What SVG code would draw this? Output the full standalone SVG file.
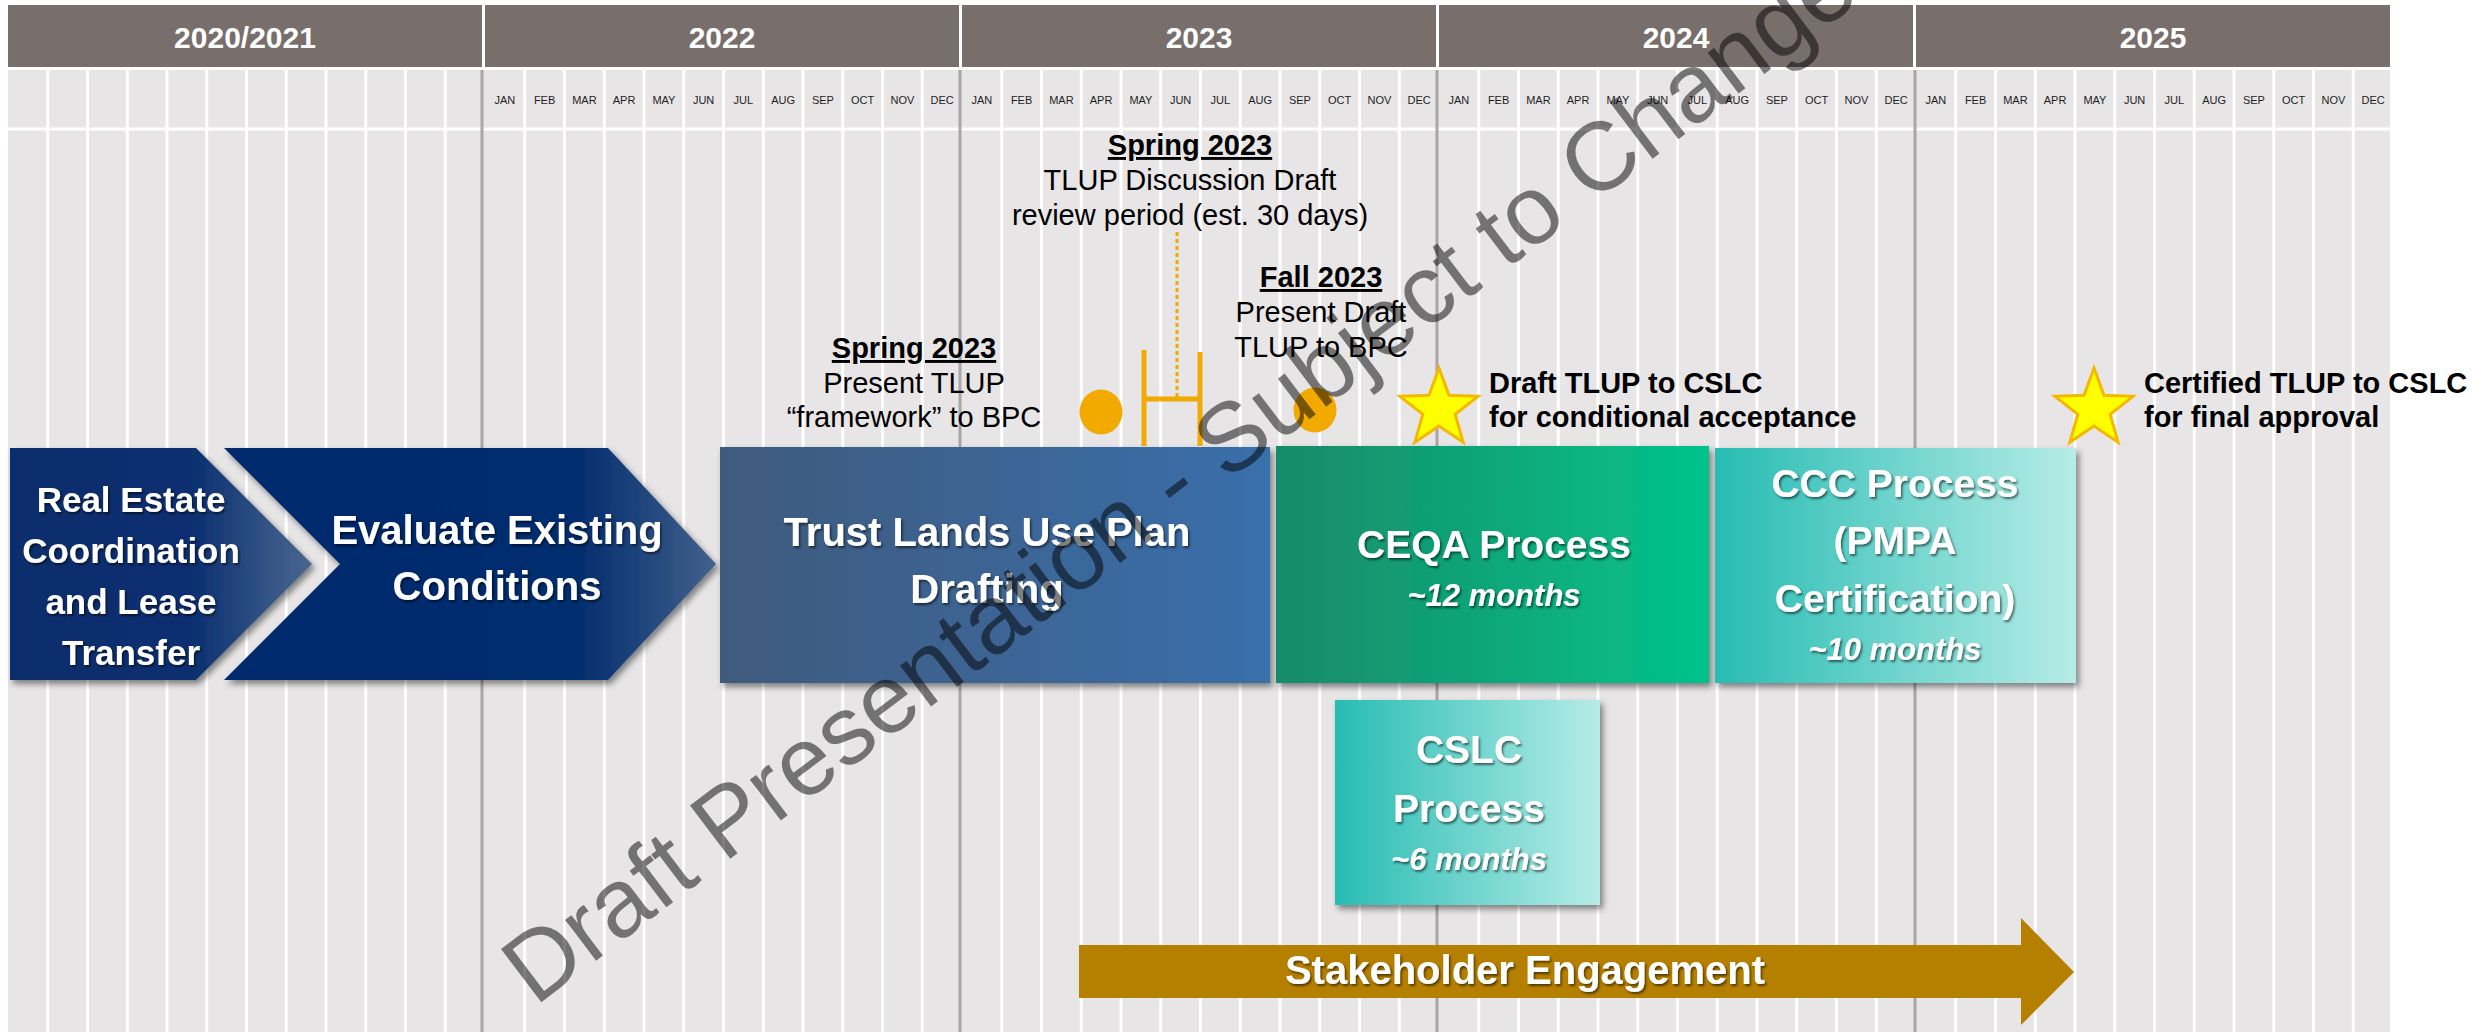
<svg xmlns="http://www.w3.org/2000/svg" width="2473" height="1032" viewBox="0 0 2473 1032">
<style>
.mo{font-family:"Liberation Sans",Arial,sans-serif;font-size:11px;fill:#1e1e1e;text-anchor:middle}
.yr{font-family:"Liberation Sans",Arial,sans-serif;font-size:30px;font-weight:bold;fill:#fff;text-anchor:middle}
.bx{font-family:"Liberation Sans",Arial,sans-serif;font-weight:bold;fill:#fff;text-anchor:middle}
.it{font-style:italic}
.ann{font-family:"Liberation Sans",Arial,sans-serif;font-size:29px;fill:#000;text-anchor:middle}
.ttl{font-weight:bold;text-decoration:underline}
.ms{font-family:"Liberation Sans",Arial,sans-serif;font-size:29px;font-weight:bold;fill:#000}
.hdr{fill:#786e6c}
.org{stroke:#f2a900;fill:none}
</style>
<defs>
<filter id="sh" x="-10%" y="-10%" width="125%" height="130%"><feDropShadow dx="3" dy="4" stdDeviation="3" flood-color="#000" flood-opacity="0.45"/></filter>
<filter id="ts" x="-10%" y="-20%" width="125%" height="150%"><feDropShadow dx="1.5" dy="2" stdDeviation="1.2" flood-color="#000" flood-opacity="0.55"/></filter>
<linearGradient id="gRE" x1="0" y1="0" x2="1" y2="0"><stop offset="0" stop-color="#0b2d6c"/><stop offset="0.6" stop-color="#0a2f70"/><stop offset="1" stop-color="#4a6790"/></linearGradient>
<linearGradient id="gEV" x1="0" y1="0" x2="1" y2="0"><stop offset="0" stop-color="#002b6e"/><stop offset="0.72" stop-color="#032d6e"/><stop offset="1" stop-color="#42618c"/></linearGradient>
<linearGradient id="gTL" x1="0" y1="0" x2="1" y2="0"><stop offset="0" stop-color="#3f5a7d"/><stop offset="1" stop-color="#396fab"/></linearGradient>
<linearGradient id="gCE" x1="0" y1="0" x2="1" y2="0"><stop offset="0" stop-color="#188b69"/><stop offset="1" stop-color="#03c38b"/></linearGradient>
<linearGradient id="gCC" x1="0" y1="0" x2="1" y2="0"><stop offset="0" stop-color="#27bcb3"/><stop offset="1" stop-color="#b6ece7"/></linearGradient>
<polygon id="star" points="0,-41 9.99,-13.75 38.99,-12.67 16.17,5.25 24.1,33.17 0,17 -24.1,33.17 -16.17,5.25 -38.99,-12.67 -9.99,-13.75" fill="#ffff00" stroke="#f5b800" stroke-width="3" stroke-linejoin="miter"/>
</defs>

<g id="grid">
<rect x="0" y="0" width="2473" height="1032" fill="#fff"/>
<rect x="8" y="70" width="2382" height="962" fill="#e7e5e6"/>
<path stroke="#fff" stroke-width="3" d="M47.75 70V1032M87.5 70V1032M127.25 70V1032M167 70V1032M206.75 70V1032M246.5 70V1032M286.25 70V1032M326 70V1032M365.75 70V1032M405.5 70V1032M445.25 70V1032
M524.75 70V1032M564.5 70V1032M604.25 70V1032M644 70V1032M683.75 70V1032M723.5 70V1032M763.25 70V1032M803 70V1032M842.75 70V1032M882.5 70V1032M922.25 70V1032
M1001.75 70V1032M1041.5 70V1032M1081.25 70V1032M1121 70V1032M1160.75 70V1032M1200.5 70V1032M1240.25 70V1032M1280 70V1032M1319.75 70V1032M1359.5 70V1032M1399.25 70V1032
M1478.75 70V1032M1518.5 70V1032M1558.25 70V1032M1598 70V1032M1637.75 70V1032M1677.5 70V1032M1717.25 70V1032M1757 70V1032M1796.75 70V1032M1836.5 70V1032M1876.25 70V1032
M1955.75 70V1032M1995.5 70V1032M2035.25 70V1032M2075 70V1032M2114.75 70V1032M2154.5 70V1032M2194.25 70V1032M2234 70V1032M2273.75 70V1032M2313.5 70V1032M2353.25 70V1032
M8 129H2390"/>
<path stroke="#aaa5a6" stroke-width="3" d="M482 70V1032M960 70V1032M1437 70V1032M1915 70V1032"/>
</g>

<g id="header">
<rect class="hdr" x="8" y="5" width="474" height="62"/>
<rect class="hdr" x="485" y="5" width="474" height="62"/>
<rect class="hdr" x="962" y="5" width="474" height="62"/>
<rect class="hdr" x="1439" y="5" width="474" height="62"/>
<rect class="hdr" x="1916" y="5" width="474" height="62"/>
<text class="yr" x="245" y="48">2020/2021</text>
<text class="yr" x="722" y="48">2022</text>
<text class="yr" x="1199" y="48">2023</text>
<text class="yr" x="1676" y="48">2024</text>
<text class="yr" x="2153" y="48">2025</text>
</g>

<g id="months">
<text class="mo" x="504.9" y="104">JAN</text><text class="mo" x="544.6" y="104">FEB</text><text class="mo" x="584.4" y="104">MAR</text><text class="mo" x="624.1" y="104">APR</text><text class="mo" x="663.9" y="104">MAY</text><text class="mo" x="703.6" y="104">JUN</text><text class="mo" x="743.4" y="104">JUL</text><text class="mo" x="783.1" y="104">AUG</text><text class="mo" x="822.9" y="104">SEP</text><text class="mo" x="862.6" y="104">OCT</text><text class="mo" x="902.4" y="104">NOV</text><text class="mo" x="942.1" y="104">DEC</text>
<text class="mo" x="981.9" y="104">JAN</text><text class="mo" x="1021.6" y="104">FEB</text><text class="mo" x="1061.4" y="104">MAR</text><text class="mo" x="1101.1" y="104">APR</text><text class="mo" x="1140.9" y="104">MAY</text><text class="mo" x="1180.6" y="104">JUN</text><text class="mo" x="1220.4" y="104">JUL</text><text class="mo" x="1260.1" y="104">AUG</text><text class="mo" x="1299.9" y="104">SEP</text><text class="mo" x="1339.6" y="104">OCT</text><text class="mo" x="1379.4" y="104">NOV</text><text class="mo" x="1419.1" y="104">DEC</text>
<text class="mo" x="1458.9" y="104">JAN</text><text class="mo" x="1498.6" y="104">FEB</text><text class="mo" x="1538.4" y="104">MAR</text><text class="mo" x="1578.1" y="104">APR</text><text class="mo" x="1617.9" y="104">MAY</text><text class="mo" x="1657.6" y="104">JUN</text><text class="mo" x="1697.4" y="104">JUL</text><text class="mo" x="1737.1" y="104">AUG</text><text class="mo" x="1776.9" y="104">SEP</text><text class="mo" x="1816.6" y="104">OCT</text><text class="mo" x="1856.4" y="104">NOV</text><text class="mo" x="1896.1" y="104">DEC</text>
<text class="mo" x="1935.9" y="104">JAN</text><text class="mo" x="1975.6" y="104">FEB</text><text class="mo" x="2015.4" y="104">MAR</text><text class="mo" x="2055.1" y="104">APR</text><text class="mo" x="2094.9" y="104">MAY</text><text class="mo" x="2134.6" y="104">JUN</text><text class="mo" x="2174.4" y="104">JUL</text><text class="mo" x="2214.1" y="104">AUG</text><text class="mo" x="2253.9" y="104">SEP</text><text class="mo" x="2293.6" y="104">OCT</text><text class="mo" x="2333.4" y="104">NOV</text><text class="mo" x="2373.1" y="104">DEC</text>
</g>

<g id="connectors">
<path class="org" stroke-width="3" stroke-dasharray="4 3" d="M1177 232V397"/>
<path class="org" stroke-width="5" d="M1144 350V446M1200 352V446M1144 399H1200"/>
</g>

<g id="milestone-spring-framework">
<ellipse cx="1101" cy="412" rx="21.5" ry="22.5" fill="#f2a900"/>
<text class="ann ttl" x="914" y="358">Spring 2023</text>
<text class="ann" x="914" y="393">Present TLUP</text>
<text class="ann" x="914" y="427">“framework” to BPC</text>
</g>

<g id="milestone-spring-discussion">
<text class="ann ttl" x="1190" y="155">Spring 2023</text>
<text class="ann" x="1190" y="190">TLUP Discussion Draft</text>
<text class="ann" x="1190" y="225">review period (est. 30 days)</text>
</g>

<g id="milestone-fall">
<ellipse cx="1315" cy="410" rx="21.5" ry="22.5" fill="#f2a900"/>
<text class="ann ttl" x="1321" y="287">Fall 2023</text>
<text class="ann" x="1321" y="322">Present Draft</text>
<text class="ann" x="1321" y="357">TLUP to BPC</text>
</g>

<g id="milestone-draft-cslc">
<use href="#star" x="1439" y="409"/>
<text class="ms" x="1489" y="393">Draft TLUP to CSLC</text>
<text class="ms" x="1489" y="427">for conditional acceptance</text>
</g>

<g id="milestone-certified-cslc">
<use href="#star" x="2094" y="409"/>
<text class="ms" x="2144" y="393">Certified TLUP to CSLC</text>
<text class="ms" x="2144" y="427">for final approval</text>
</g>

<g id="real-estate">
<polygon points="10,448 196,448 312,564 196,680 10,680" fill="url(#gRE)" filter="url(#sh)"/>
<g class="bx" font-size="35" filter="url(#ts)">
<text x="131" y="512">Real Estate</text>
<text x="131" y="563">Coordination</text>
<text x="131" y="614">and Lease</text>
<text x="131" y="665">Transfer</text>
</g>
</g>

<g id="evaluate">
<polygon points="224,448 608,448 716,564 608,680 224,680 340,564" fill="url(#gEV)" filter="url(#sh)"/>
<g class="bx" font-size="40" filter="url(#ts)">
<text x="497" y="544">Evaluate Existing</text>
<text x="497" y="600">Conditions</text>
</g>
</g>

<g id="trust-lands">
<rect x="720" y="447" width="550" height="236" fill="url(#gTL)" filter="url(#sh)"/>
<g class="bx" font-size="40" filter="url(#ts)">
<text x="987" y="546">Trust Lands Use Plan</text>
<text x="987" y="603">Drafting</text>
</g>
</g>

<g id="ceqa">
<rect x="1276" y="446" width="433" height="237" fill="url(#gCE)" filter="url(#sh)"/>
<g class="bx" filter="url(#ts)">
<text x="1494" y="558" font-size="39">CEQA Process</text>
<text class="it" x="1494" y="606" font-size="31">~12 months</text>
</g>
</g>

<g id="ccc">
<rect x="1715" y="448" width="361" height="235" fill="url(#gCC)" filter="url(#sh)"/>
<g class="bx" font-size="39" filter="url(#ts)">
<text x="1895" y="497">CCC Process</text>
<text x="1895" y="554">(PMPA</text>
<text x="1895" y="612">Certification)</text>
<text class="it" x="1895" y="660" font-size="31">~10 months</text>
</g>
</g>

<g id="cslc">
<rect x="1335" y="700" width="265" height="205" fill="url(#gCC)" filter="url(#sh)"/>
<g class="bx" font-size="39" filter="url(#ts)">
<text x="1469" y="763">CSLC</text>
<text x="1469" y="822">Process</text>
<text class="it" x="1469" y="870" font-size="31">~6 months</text>
</g>
</g>

<g id="stakeholder">
<polygon points="1079,945 2021,945 2021,918 2074,972 2021,1025 2021,998 1079,998" fill="#b57f00"/>
<text class="bx" x="1525" y="984" font-size="40" filter="url(#ts)">Stakeholder Engagement</text>
</g>

<g id="watermark">
<text x="0" y="0" transform="translate(535,1007) rotate(-37.2)" font-family="'Liberation Sans',Arial,sans-serif" font-size="97" fill="#000" fill-opacity="0.5">Draft Presentation - Subject to Change</text>
</g>
</svg>
